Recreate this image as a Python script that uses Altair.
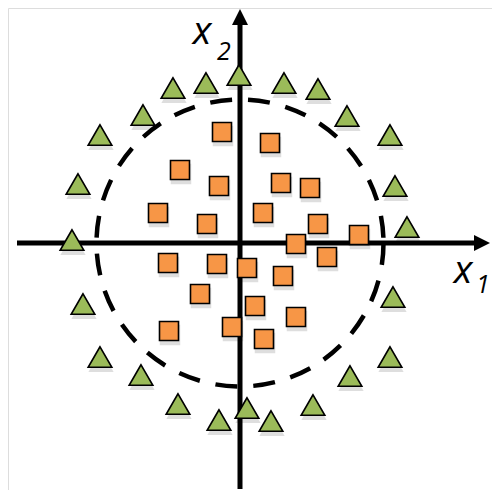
import altair as alt
import pandas as pd

# Class A (orange squares), coordinates in data units (origin at axis crossing)
sq_x1 = [-1.8, 3.0, -6.0, -2.1, 4.1, 7.0, -8.2, -3.3, 2.3, 7.8, 11.9, 5.6,
         8.7, -7.2, -2.3, 0.7, 4.3, -4.0, 1.5, 5.6, -7.1, -0.8, 2.4]
sq_x2 = [11.1, 10.0, 7.3, 5.7, 6.0, 5.5, 3.0, 1.9, 3.0, 1.9, 0.8, -0.1,
         -1.4, -2.0, -2.1, -2.5, -3.3, -5.1, -6.3, -7.4, -8.8, -8.4, -9.6]

# Class B (green triangles)
tri_x1 = [-0.1, -3.4, -6.7, 4.4, 7.8, -9.7, 10.7, -14.0, 15.0, -16.2, 15.5, -16.8,
          16.7, -15.7, 15.3, -14.0, 15.0, -9.9, 11.0, -6.2, 7.3, -2.1, 3.1, 0.7]
tri_x2 = [16.8, 16.0, 15.5, 16.0, 15.4, 12.8, 12.7, 10.8, 10.8, 5.9, 5.7, 0.3,
          1.6, -6.1, -5.4, -11.4, -11.4, -13.2, -13.3, -16.1, -16.2, -17.7, -17.8, -16.5]

# Decision boundary circle (center and radius in data units)
circle_center = [0.0, 0.0]
circle_radius = 14.35

# Axis extents
axis_x_range = [-22.3, 23.5]
axis_y_range = [-24.6, 21.8]

squares = pd.DataFrame({"x1": sq_x1, "x2": sq_x2})
triangles = pd.DataFrame({"x1": tri_x1, "x2": tri_x2})

X_DOM = [-23.2, 25.2]
Y_DOM = [-24.7, 23.5]
W, H = 484, 482
xs = alt.Scale(domain=X_DOM, nice=False, zero=False)
ys = alt.Scale(domain=Y_DOM, nice=False, zero=False)
px_per_unit = W / (X_DOM[1] - X_DOM[0])


def enc(xf="x1", yf="x2"):
    return dict(
        x=alt.X(f"{xf}:Q", scale=xs, axis=None),
        y=alt.Y(f"{yf}:Q", scale=ys, axis=None),
    )


circle_df = pd.DataFrame({"x1": [circle_center[0]], "x2": [circle_center[1]]})
diam = 2 * circle_radius * px_per_unit
circle = alt.Chart(circle_df).mark_point(
    shape="circle", size=diam * diam, filled=False, stroke="black",
    strokeWidth=4.5, strokeDash=[22, 16], opacity=1
).encode(**enc())

axes_df = pd.DataFrame({
    "x": [axis_x_range[0], 0.0], "x2": [axis_x_range[1], 0.0],
    "y": [0.0, axis_y_range[0]], "y2": [0.0, axis_y_range[1]],
})
axes = alt.Chart(axes_df).mark_rule(color="black", strokeWidth=5).encode(
    x=alt.X("x:Q", scale=xs, axis=None), x2="x2:Q",
    y=alt.Y("y:Q", scale=ys, axis=None), y2="y2:Q",
)

head_r = pd.DataFrame({"x1": [axis_x_range[1] + 0.7], "x2": [0.0]})
head_u = pd.DataFrame({"x1": [0.0], "x2": [axis_y_range[1] + 0.8]})
arrow_r = alt.Chart(head_r).mark_point(
    shape="M-1,-1 L1,0 L-1,1 Z", size=256, filled=True, color="black", opacity=1
).encode(**enc())
arrow_u = alt.Chart(head_u).mark_point(
    shape="M-1,1 L0,-1 L1,1 Z", size=256, filled=True, color="black", opacity=1
).encode(**enc())

sq_shadow = alt.Chart(squares).mark_point(
    shape="square", size=420, filled=True, color="#000000", opacity=0.13,
    strokeWidth=0, xOffset=1, yOffset=4
).encode(**enc())
tri_shadow = alt.Chart(triangles).mark_point(
    shape="triangle-up", size=640, filled=True, color="#000000", opacity=0.13,
    strokeWidth=0, xOffset=1, yOffset=4
).encode(**enc())

sq = alt.Chart(squares).mark_point(
    shape="square", size=361, filled=True, fill="#F79646", stroke="black",
    strokeWidth=1.6, opacity=1, fillOpacity=1
).encode(**enc())
tri = alt.Chart(triangles).mark_point(
    shape="triangle-up", size=560, filled=True, fill="#9BBB59", stroke="black",
    strokeWidth=1.6, opacity=1, fillOpacity=1
).encode(**enc())

labels_main = pd.DataFrame({"x1": [-3.8, 22.3], "x2": [19.9, -4.0], "t": ["x", "x"]})
labels_sub = pd.DataFrame({"x1": [-1.6, 24.3], "x2": [18.3, -5.0], "t": ["2", "1"]})
lab1 = alt.Chart(labels_main).mark_text(
    font="Open Sans", fontSize=39, fontStyle="italic", align="center",
    baseline="alphabetic", color="black"
).encode(text="t:N", **enc())
lab2 = alt.Chart(labels_sub).mark_text(
    font="Open Sans", fontSize=25, fontStyle="italic", align="center",
    baseline="alphabetic", color="black"
).encode(text="t:N", **enc())

chart = alt.layer(
    circle, axes, arrow_r, arrow_u, sq_shadow, tri_shadow, sq, tri, lab1, lab2
).properties(
    width=W, height=H, autosize=alt.AutoSizeParams(type="none"), padding=0
).configure_view(stroke=None).configure(background="white")

chart.save("out.html", embed_options={"renderer": "svg", "actions": False})
